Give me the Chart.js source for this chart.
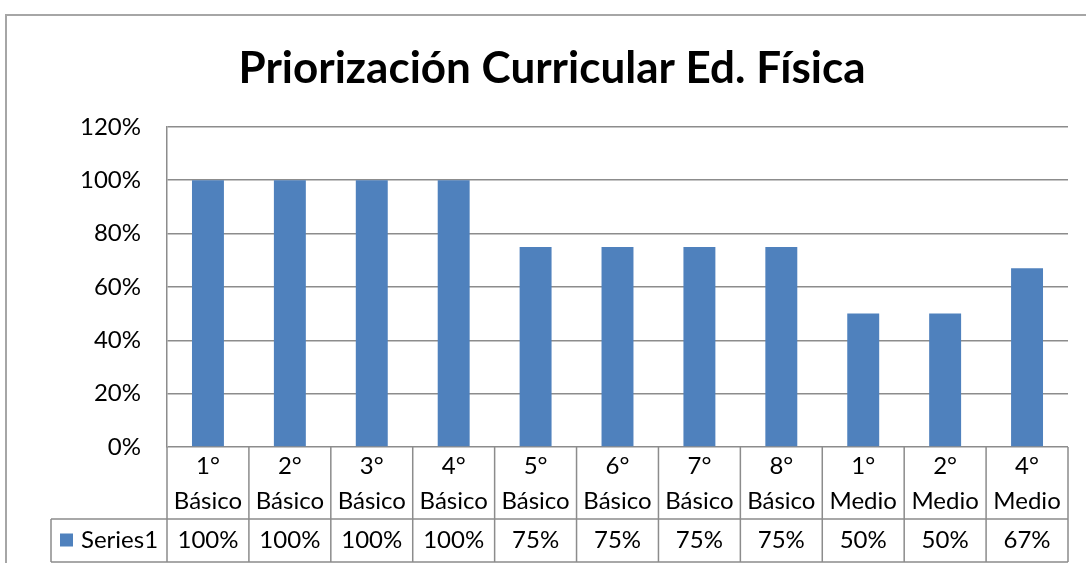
<!DOCTYPE html>
<html>
<head>
<meta charset="utf-8">
<script src="https://cdn.jsdelivr.net/npm/chart.js@4"></script>
<style>
  html, body { margin: 0; padding: 0; background: #fff; overflow: hidden; }
  #wrap { position: relative; width: 1086px; height: 563px; }
  #frame { position: absolute; left: 5px; top: 14px; width: 1200px; height: 700px; border: 2px solid #a6a6a6; box-sizing: border-box; }
  canvas { position: absolute; left: 0; top: 0; }
</style>
</head>
<body>
<div id="wrap">
  <div id="frame"></div>
  <canvas id="graph" width="1086" height="563"></canvas>
</div>
<script>
// タイトル
const TITLE = 'Priorización Curricular Ed. Física';

// カテゴリ（2行）
const CATEGORIES = [
  ['1°', 'Básico'], ['2°', 'Básico'], ['3°', 'Básico'], ['4°', 'Básico'],
  ['5°', 'Básico'], ['6°', 'Básico'], ['7°', 'Básico'], ['8°', 'Básico'],
  ['1°', 'Medio'], ['2°', 'Medio'], ['4°', 'Medio']
];

// 系列名
const SERIES_NAME = 'Series1';

// 値
const VALUES = [1, 1, 1, 1, 0.75, 0.75, 0.75, 0.75, 0.5, 0.5, 0.67];

// Y軸目盛
const Y_TICKS = [0, 0.2, 0.4, 0.6, 0.8, 1.0, 1.2];

const BAR_COLOR = '#4F81BD';
const LINE_COLOR = '#8c8c8c';
const FONT = 'Lato, "Noto Sans", sans-serif';

// データテーブル描画
const dataTablePlugin = {
  id: 'dataTable',
  afterDraw(chart) {
    const ctx = chart.ctx;
    const x = chart.scales.x;
    const area = chart.chartArea;
    const n = CATEGORIES.length;
    const step = (area.right - area.left) / n;
    const rowTop = area.bottom;
    const rowMid = area.bottom + 72;
    const rowBot = area.bottom + 115;
    const legendLeft = 51;

    ctx.save();
    ctx.strokeStyle = LINE_COLOR;
    ctx.lineWidth = 1.5;

    // 横線
    ctx.beginPath();
    ctx.moveTo(legendLeft, rowMid);
    ctx.lineTo(area.right, rowMid);
    ctx.moveTo(legendLeft, rowBot);
    ctx.lineTo(area.right, rowBot);
    // 縦線
    ctx.moveTo(legendLeft, rowMid);
    ctx.lineTo(legendLeft, rowBot);
    for (let i = 0; i <= n; i++) {
      const px = area.left + i * step;
      ctx.moveTo(px, rowTop);
      ctx.lineTo(px, rowBot);
    }
    ctx.stroke();

    // テキスト
    ctx.fillStyle = '#000';
    ctx.font = '24px ' + FONT;
    ctx.textAlign = 'center';
    ctx.textBaseline = 'middle';
    for (let i = 0; i < n; i++) {
      const cx = x.getPixelForValue(i);
      ctx.fillText(CATEGORIES[i][0], cx, rowTop + 19);
      ctx.fillText(CATEGORIES[i][1], cx, rowTop + 54);
      ctx.fillText(Math.round(VALUES[i] * 100) + '%', cx, (rowMid + rowBot) / 2);
    }

    // 凡例
    const my = (rowMid + rowBot) / 2;
    ctx.fillStyle = BAR_COLOR;
    ctx.fillRect(60, my - 7, 13, 13);
    ctx.fillStyle = '#000';
    ctx.textAlign = 'left';
    ctx.fillText(SERIES_NAME, 81, my);
    ctx.restore();
  }
};

new Chart(document.getElementById('graph'), {
  type: 'bar',
  data: {
    labels: CATEGORIES,
    datasets: [{
      label: SERIES_NAME,
      data: VALUES,
      backgroundColor: BAR_COLOR,
      borderWidth: 0,
      categoryPercentage: 1,
      barPercentage: 0.39
    }]
  },
  options: {
    responsive: false,
    animation: false,
    layout: { padding: { left: 36, right: 18, top: 0, bottom: 108 } },
    plugins: {
      legend: { display: false },
      tooltip: { enabled: false },
      title: {
        display: true,
        text: TITLE,
        color: '#000',
        font: { family: FONT, size: 44, weight: 'bold' },
        padding: { top: 42, bottom: 32 }
      }
    },
    scales: {
      x: {
        ticks: { display: false },
        grid: { display: false },
        border: { display: false }
      },
      y: {
        min: 0,
        max: 1.2,
        afterFit(scale) { scale.width = 131; },
        afterBuildTicks(scale) { scale.ticks = Y_TICKS.map(v => ({ value: v })); },
        ticks: {
          color: '#000',
          padding: 26,
          font: { family: FONT, size: 24 },
          callback: v => Math.round(v * 100) + '%'
        },
        grid: { color: LINE_COLOR, lineWidth: 1.5, drawTicks: false },
        border: { color: LINE_COLOR, width: 1.5 }
      }
    }
  },
  plugins: [dataTablePlugin]
});
</script>
</body>
</html>
